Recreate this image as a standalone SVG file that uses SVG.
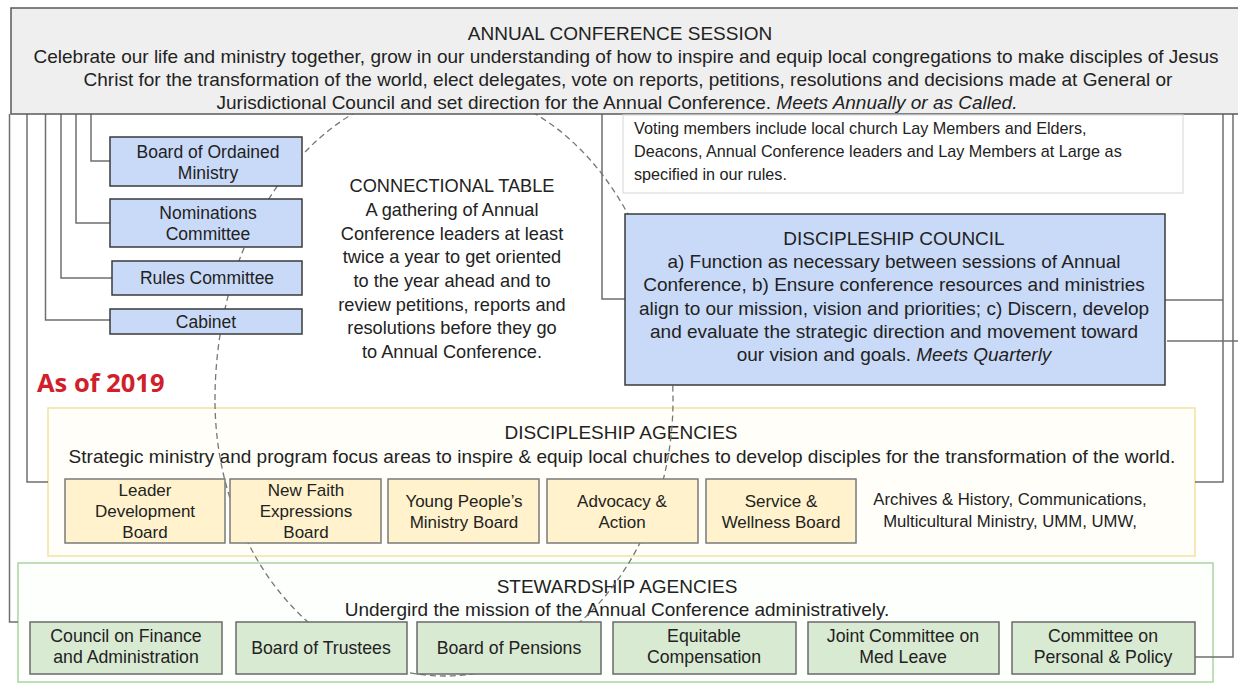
<svg xmlns="http://www.w3.org/2000/svg" width="1238" height="695" viewBox="0 0 1238 695">
<style>
text{font-family:"Liberation Sans",Arial,sans-serif;fill:#222;text-anchor:middle}
.f19{font-size:19px}
.fct{font-size:18.2px}
.fbl{font-size:17.5px}
.fye{font-size:17px}
.fgr{font-size:17.7px}
.far{font-size:16.7px}
.fvo{font-size:16.2px}
.l{text-anchor:start}
.it{font-style:italic}
.conn{stroke:#6f6f6f;stroke-width:1.5;fill:none}
.blue{fill:#c9daf8;stroke:#3a3a3a;stroke-width:1.5}
.yel{fill:#fff2cc;stroke:#7a7a7a;stroke-width:1.5}
.grn{fill:#d9ead3;stroke:#6a6a6a;stroke-width:1.5}
.dash{fill:none;stroke:#777;stroke-width:1.3;stroke-dasharray:6 4}
</style>
<rect width="1238" height="695" fill="#ffffff"/>

<g id="discipleship-agencies">
<rect x="48" y="408" width="1147" height="148" fill="#fffef9" stroke="#f2e3a0" stroke-width="1.5"/>
<text class="f19" x="621" y="439">DISCIPLESHIP AGENCIES</text>
<text class="f19" x="622" y="463">Strategic ministry and program focus areas to inspire &amp; equip local churches to develop disciples for the transformation of the world.</text>
<text class="far" x="1010" y="505">Archives &amp; History, Communications,</text>
<text class="far" x="1010" y="527">Multicultural Ministry, UMM, UMW,</text>
</g>

<g id="stewardship-agencies">
<rect x="18" y="563" width="1195" height="119" fill="#fdfffc" stroke="#a9d6a0" stroke-width="1.5"/>
<text class="f19" x="617" y="593">STEWARDSHIP AGENCIES</text>
<text class="f19" x="617" y="616">Undergird the mission of the Annual Conference administratively.</text>
</g>

<g id="connectional-table">
<path class="dash" d="M215,400 A229,312 0 0 1 673,400 A229,276 0 0 1 215,400 Z"/>
<text class="fct" x="452" y="192">CONNECTIONAL TABLE</text>
<text class="fct" x="452" y="216">A gathering of Annual</text>
<text class="fct" x="452" y="239.5">Conference leaders at least</text>
<text class="fct" x="452" y="263">twice a year to get oriented</text>
<text class="fct" x="452" y="287">to the year ahead and to</text>
<text class="fct" x="452" y="310.5">review petitions, reports and</text>
<text class="fct" x="452" y="334">resolutions before they go</text>
<text class="fct" x="452" y="357.5">to Annual Conference.</text>
</g>

<g id="connectors">
<polyline class="conn" points="91,114 91,161 110,161"/>
<polyline class="conn" points="76,114 76,223 110,223"/>
<polyline class="conn" points="61,114 61,278 112,278"/>
<polyline class="conn" points="45.5,114 45.5,320 110,320"/>
<polyline class="conn" points="27,114 27,482 48,482"/>
<polyline class="conn" points="9.5,114 9.5,622 18,622"/>
<polyline class="conn" points="602,114 602,299 625,299"/>
<polyline class="conn" points="1165,300 1223,300"/>
<polyline class="conn" points="1223,114 1223,482 1195,482"/>
<polyline class="conn" points="1167,341 1238,341"/>
<polyline class="conn" points="1233,114 1233,657 1195,657"/>
</g>

<g id="annual-conference-session">
<rect x="11" y="8" width="1240" height="106" fill="#efefef" stroke="#595959" stroke-width="1.5"/>
<text class="f19" x="620" y="40">ANNUAL CONFERENCE SESSION</text>
<text class="f19" x="626" y="63">Celebrate our life and ministry together, grow in our understanding of how to inspire and equip local congregations to make disciples of Jesus</text>
<text class="f19" x="628" y="86">Christ for the transformation of the world, elect delegates, vote on reports, petitions, resolutions and decisions made at General or</text>
<text class="f19" x="617" y="109">Jurisdictional Council and set direction for the Annual Conference. <tspan class="it">Meets Annually or as Called.</tspan></text>
</g>

<g id="voting-members">
<rect x="623" y="115" width="560" height="78" fill="#ffffff" stroke="#dcdcdc" stroke-width="1.2"/>
<text class="fvo l" x="634" y="134">Voting members include local church Lay Members and Elders,</text>
<text class="fvo l" x="634" y="157">Deacons, Annual Conference leaders and Lay Members at Large as</text>
<text class="fvo l" x="634" y="180">specified in our rules.</text>
</g>

<g id="discipleship-council">
<rect x="625" y="214" width="540" height="171" class="blue"/>
<text class="f19" x="894" y="245">DISCIPLESHIP COUNCIL</text>
<text class="f19" x="894" y="268">a) Function as necessary between sessions of Annual</text>
<text class="f19" x="894" y="291">Conference, b) Ensure conference resources and ministries</text>
<text class="f19" x="894" y="315">align to our mission, vision and priorities; c) Discern, develop</text>
<text class="f19" x="894" y="338">and evaluate the strategic direction and movement toward</text>
<text class="f19" x="894" y="361">our vision and goals. <tspan class="it">Meets Quarterly</tspan></text>
</g>

<g id="board-of-ordained-ministry">
<rect x="110" y="137" width="192" height="49" class="blue"/>
<text class="fbl" x="208" y="158">Board of Ordained</text>
<text class="fbl" x="208" y="179">Ministry</text>
</g>
<g id="nominations-committee">
<rect x="110" y="199" width="192" height="48" class="blue"/>
<text class="fbl" x="208" y="219">Nominations</text>
<text class="fbl" x="208" y="240">Committee</text>
</g>
<g id="rules-committee">
<rect x="112" y="261" width="190" height="34" class="blue"/>
<text class="fbl" x="207" y="284">Rules Committee</text>
</g>
<g id="cabinet">
<rect x="110" y="309" width="192" height="25" class="blue"/>
<text class="fbl" x="206" y="327.5">Cabinet</text>
</g>

<g id="as-of-2019">
<text x="37" y="392" style="font-family:'Open Sans','Noto Sans',sans-serif;font-weight:bold;font-size:25.5px;fill:#d0202a;text-anchor:start">As of 2019</text>
</g>

<g id="leader-development-board">
<rect x="65" y="479" width="160" height="64" class="yel"/>
<text class="fye" x="145" y="496">Leader</text>
<text class="fye" x="145" y="517">Development</text>
<text class="fye" x="145" y="538">Board</text>
</g>
<g id="new-faith-expressions-board">
<rect x="230" y="479" width="151" height="64" class="yel"/>
<text class="fye" x="306" y="496">New Faith</text>
<text class="fye" x="306" y="517">Expressions</text>
<text class="fye" x="306" y="538">Board</text>
</g>
<g id="young-peoples-ministry-board">
<rect x="388" y="479" width="151" height="64" class="yel"/>
<text class="fye" x="464" y="507">Young People’s</text>
<text class="fye" x="464" y="528">Ministry Board</text>
</g>
<g id="advocacy-action">
<rect x="547" y="479" width="151" height="64" class="yel"/>
<text class="fye" x="622" y="507">Advocacy &amp;</text>
<text class="fye" x="622" y="528">Action</text>
</g>
<g id="service-wellness-board">
<rect x="706" y="479" width="150" height="64" class="yel"/>
<text class="fye" x="781" y="507">Service &amp;</text>
<text class="fye" x="781" y="528">Wellness Board</text>
</g>

<g id="council-on-finance">
<rect x="30" y="622" width="192" height="52" class="grn"/>
<text class="fgr" x="126" y="642">Council on Finance</text>
<text class="fgr" x="126" y="663">and Administration</text>
</g>
<g id="board-of-trustees">
<rect x="236" y="622" width="171" height="52" class="grn"/>
<text class="fgr" x="321" y="654">Board of Trustees</text>
</g>
<g id="board-of-pensions">
<rect x="417" y="622" width="184" height="52" class="grn"/>
<text class="fgr" x="509" y="654">Board of Pensions</text>
</g>
<g id="equitable-compensation">
<rect x="613" y="622" width="183" height="52" class="grn"/>
<text class="fgr" x="704" y="642">Equitable</text>
<text class="fgr" x="704" y="663">Compensation</text>
</g>
<g id="joint-committee-med-leave">
<rect x="808" y="622" width="191" height="52" class="grn"/>
<text class="fgr" x="903" y="642">Joint Committee on</text>
<text class="fgr" x="903" y="663">Med Leave</text>
</g>
<g id="committee-personal-policy">
<rect x="1012" y="622" width="183" height="52" class="grn"/>
<text class="fgr" x="1103" y="642">Committee on</text>
<text class="fgr" x="1103" y="663">Personal &amp; Policy</text>
</g>
</svg>
